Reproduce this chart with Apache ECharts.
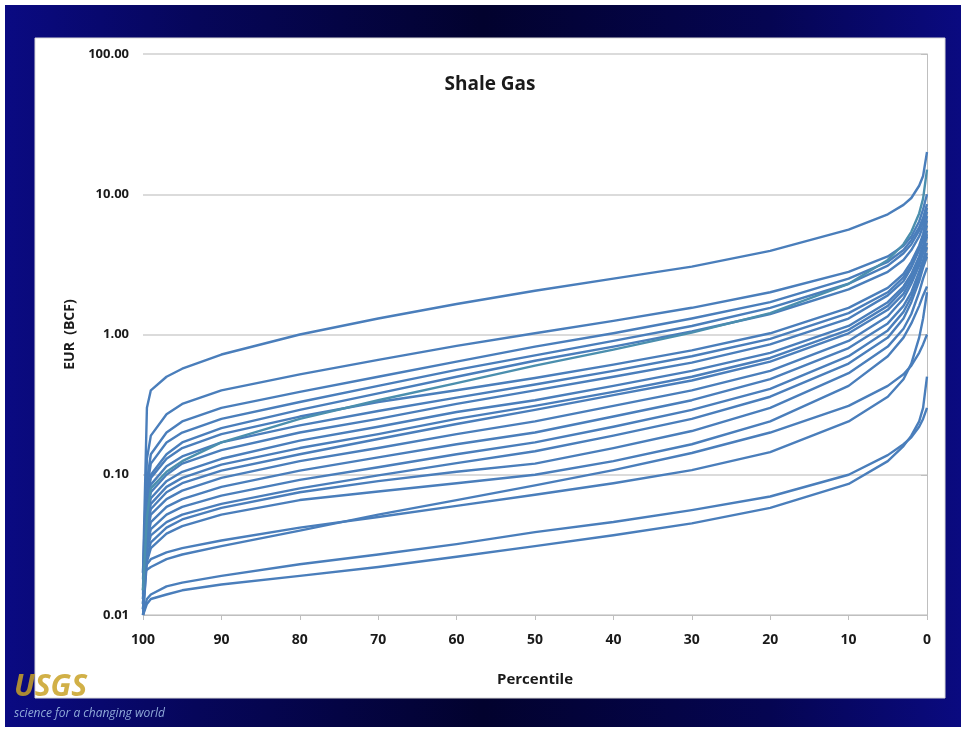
<!DOCTYPE html>
<html>
<head>
<meta charset="utf-8">
<script src="https://cdn.jsdelivr.net/npm/echarts@6/dist/echarts.min.js"></script>
<style>
html,body{margin:0;padding:0;background:#ffffff;}
#wrap{position:absolute;left:0;top:0;width:961px;height:729px;background:#ffffff;}
#bg{position:absolute;left:5px;top:5px;width:956px;height:722px;
background:linear-gradient(90deg,#0a0a82 0%,#06065a 20%,#02022e 50%,#050552 80%,#0a0a80 100%);}
#chart{position:absolute;left:0;top:0;width:961px;height:729px;}
</style>
</head>
<body>
<div id="wrap"><div id="bg"></div><div id="chart"></div></div>
<script>
// Percentile positions (x) shared by all curves
const percentiles = [100, 99.5, 99, 97, 95, 90, 80, 70, 60, 50, 40, 30, 20, 10, 5, 3, 2, 1, 0.5, 0];

// EUR (BCF) values, one array per well-type curve
const c1  = [0.02, 0.3, 0.40, 0.50, 0.57, 0.72, 1.0, 1.3, 1.65, 2.05, 2.5, 3.05, 3.95, 5.6, 7.2, 8.4, 9.4, 11.5, 13.5, 20];
const cGreen = [0.015, 0.05, 0.08, 0.105, 0.125, 0.17, 0.25, 0.34, 0.45, 0.60, 0.78, 1.03, 1.42, 2.3, 3.4, 4.4, 5.4, 7.3, 9.3, 15];
const c3  = [0.02, 0.13, 0.19, 0.27, 0.32, 0.40, 0.52, 0.66, 0.83, 1.02, 1.25, 1.55, 2.0, 2.8, 3.6, 4.3, 5.0, 6.4, 7.8, 10];
const c4  = [0.018, 0.09, 0.14, 0.2, 0.24, 0.30, 0.39, 0.5, 0.64, 0.82, 1.02, 1.3, 1.7, 2.5, 3.3, 4.0, 4.7, 5.8, 6.8, 8.5];
const c5  = [0.015, 0.08, 0.12, 0.17, 0.2, 0.25, 0.33, 0.43, 0.56, 0.71, 0.9, 1.15, 1.55, 2.3, 3.1, 3.8, 4.4, 5.5, 6.4, 8];
const c6  = [0.016, 0.07, 0.1, 0.14, 0.17, 0.215, 0.29, 0.38, 0.5, 0.65, 0.82, 1.05, 1.4, 2.1, 2.8, 3.4, 4.0, 5.0, 5.9, 7.5];
const c7  = [0.015, 0.065, 0.095, 0.13, 0.155, 0.195, 0.26, 0.33, 0.4, 0.49, 0.61, 0.77, 1.02, 1.55, 2.15, 2.7, 3.3, 4.3, 5.2, 7];
const c8  = [0.014, 0.06, 0.085, 0.115, 0.135, 0.17, 0.225, 0.285, 0.355, 0.44, 0.55, 0.7, 0.93, 1.42, 2.0, 2.55, 3.1, 4.1, 5.0, 6.5];
const c9  = [0.013, 0.055, 0.075, 0.1, 0.12, 0.15, 0.2, 0.25, 0.32, 0.40, 0.5, 0.63, 0.85, 1.3, 1.9, 2.4, 3.0, 4.0, 4.8, 6];
const c10 = [0.013, 0.05, 0.068, 0.09, 0.105, 0.13, 0.175, 0.22, 0.28, 0.34, 0.43, 0.55, 0.74, 1.15, 1.7, 2.2, 2.7, 3.6, 4.4, 5.5];
const c11 = [0.012, 0.045, 0.062, 0.082, 0.095, 0.118, 0.155, 0.195, 0.25, 0.31, 0.39, 0.5, 0.68, 1.08, 1.6, 2.1, 2.6, 3.5, 4.2, 5.2];
const c12 = [0.012, 0.042, 0.057, 0.075, 0.087, 0.107, 0.14, 0.18, 0.23, 0.29, 0.37, 0.47, 0.64, 1.02, 1.5, 1.95, 2.45, 3.3, 4.0, 5];
const c13 = [0.012, 0.038, 0.052, 0.067, 0.077, 0.095, 0.125, 0.155, 0.195, 0.24, 0.31, 0.4, 0.55, 0.9, 1.35, 1.8, 2.3, 3.1, 3.8, 4.5];
const c14 = [0.011, 0.034, 0.046, 0.059, 0.067, 0.082, 0.107, 0.133, 0.165, 0.20, 0.26, 0.34, 0.48, 0.8, 1.2, 1.6, 2.0, 2.8, 3.4, 4.2];
const c15 = [0.011, 0.031, 0.041, 0.052, 0.059, 0.071, 0.092, 0.113, 0.14, 0.17, 0.22, 0.29, 0.41, 0.7, 1.07, 1.45, 1.85, 2.6, 3.2, 3.8];
const c16 = [0.011, 0.029, 0.037, 0.046, 0.052, 0.062, 0.08, 0.099, 0.121, 0.147, 0.19, 0.25, 0.36, 0.62, 0.95, 1.3, 1.7, 2.4, 3.0, 3.6];
const c17 = [0.01, 0.026, 0.033, 0.042, 0.048, 0.058, 0.075, 0.09, 0.105, 0.12, 0.155, 0.205, 0.3, 0.53, 0.82, 1.1, 1.4, 2.0, 2.5, 3.0];
const c18 = [0.01, 0.024, 0.03, 0.038, 0.043, 0.052, 0.066, 0.076, 0.087, 0.1, 0.125, 0.165, 0.24, 0.43, 0.7, 0.95, 1.2, 1.6, 1.9, 2.2];
const cSteep1 = [0.02, 0.021, 0.022, 0.025, 0.027, 0.031, 0.04, 0.052, 0.066, 0.084, 0.108, 0.143, 0.2, 0.31, 0.43, 0.52, 0.6, 0.74, 0.85, 1.0];
const cSteep2 = [0.021, 0.023, 0.025, 0.028, 0.03, 0.034, 0.042, 0.05, 0.06, 0.072, 0.087, 0.108, 0.145, 0.24, 0.36, 0.48, 0.62, 0.95, 1.3, 2.0];
const cLow1 = [0.01, 0.012, 0.013, 0.014, 0.015, 0.0165, 0.019, 0.022, 0.026, 0.031, 0.037, 0.045, 0.058, 0.086, 0.125, 0.16, 0.19, 0.24, 0.3, 0.5];
const cLow2 = [0.01, 0.013, 0.014, 0.016, 0.017, 0.019, 0.023, 0.027, 0.032, 0.039, 0.046, 0.056, 0.07, 0.1, 0.138, 0.165, 0.185, 0.22, 0.25, 0.3];

const blueCurves = [c1, c3, c4, c5, c6, c7, c8, c9, c10, c11, c12, c13, c14, c15, c16, c17, c18, cSteep1, cSteep2, cLow1, cLow2];
const greenCurves = [cGreen];

// Axis tick labels
const xTicks = [100, 90, 80, 70, 60, 50, 40, 30, 20, 10, 0];
const yTicks = ['0.01', '0.10', '1.00', '10.00', '100.00'];

const FONT = '"Open Sans", "Liberation Sans", sans-serif';

function mkSeries(curve, color) {
  return {
    type: 'line',
    data: percentiles.map((p, i) => [p, curve[i]]),
    showSymbol: false,
    smooth: false,
    silent: true,
    lineStyle: { color: color, width: 2.4, join: 'round' },
    z: 3
  };
}

const series = blueCurves.map(c => mkSeries(c, '#4a7ebb'))
  .concat(greenCurves.map(c => mkSeries(c, '#4b8fae')));

const chart = echarts.init(document.getElementById('chart'), null, { renderer: 'canvas' });
chart.setOption({
  backgroundColor: 'transparent',
  animation: false,
  grid: { left: 143, right: 34, top: 54, bottom: 114 },
  xAxis: {
    type: 'value',
    min: 0, max: 100, interval: 10,
    inverse: true,
    name: 'Percentile',
    nameLocation: 'middle',
    nameGap: 57,
    nameTextStyle: { fontFamily: FONT, fontWeight: 'bold', fontSize: 15, color: '#1a1a1a' },
    axisLine: { show: true, lineStyle: { color: '#bfbfbf', width: 1 } },
    axisTick: { show: true, length: 5, lineStyle: { color: '#bfbfbf' } },
    splitLine: { show: false },
    axisLabel: {
      margin: 18,
      fontFamily: FONT, fontWeight: 'bold', fontSize: 14, color: '#1a1a1a',
      formatter: v => xTicks.indexOf(v) >= 0 ? String(v) : ''
    }
  },
  yAxis: {
    type: 'log',
    logBase: 10,
    min: 0.01, max: 100,
    name: 'EUR  (BCF)',
    nameLocation: 'middle',
    nameGap: 43,
    nameRotate: 90,
    nameTextStyle: { fontFamily: FONT, fontWeight: 'bold', fontSize: 14, color: '#1a1a1a' },
    axisLine: { show: true, lineStyle: { color: '#bfbfbf', width: 1 } },
    axisTick: { show: true, length: 6, lineStyle: { color: '#bfbfbf' } },
    splitLine: { show: true, lineStyle: { color: '#cfcfcf', width: 1.5 } },
    minorTick: { show: false },
    axisLabel: {
      margin: 14,
      fontFamily: FONT, fontWeight: 'bold', fontSize: 13, color: '#1a1a1a',
      formatter: v => {
        const idx = Math.round(Math.log10(v)) + 2;
        return yTicks[idx] !== undefined ? yTicks[idx] : '';
      }
    }
  },
  graphic: [
    { type: 'rect', z: -10, silent: true,
      shape: { x: 35, y: 38, width: 910, height: 660 },
      style: { fill: '#ffffff', stroke: '#d9d9d9', lineWidth: 1 } },
    { type: 'text', z: 10, silent: true, x: 490, y: 85,
      style: { text: 'Shale Gas', fontFamily: FONT, fontWeight: 'bold', fontSize: 19,
               fill: '#1a1a1a', textAlign: 'center', textVerticalAlign: 'middle' } },
    { type: 'text', z: 10, silent: true, x: 14, y: 672,
      style: { text: 'USGS', fontFamily: FONT, fontWeight: 'bold', fontStyle: 'italic', fontSize: 30,
               fill: '#c9a227', opacity: 0.85 } },
    { type: 'text', z: 10, silent: true, x: 14, y: 708,
      style: { text: 'science for a changing world', fontFamily: FONT, fontStyle: 'italic',
               fontSize: 12, fill: '#8fa9d8' } }
  ],
  series: series
});
</script>
</body>
</html>
